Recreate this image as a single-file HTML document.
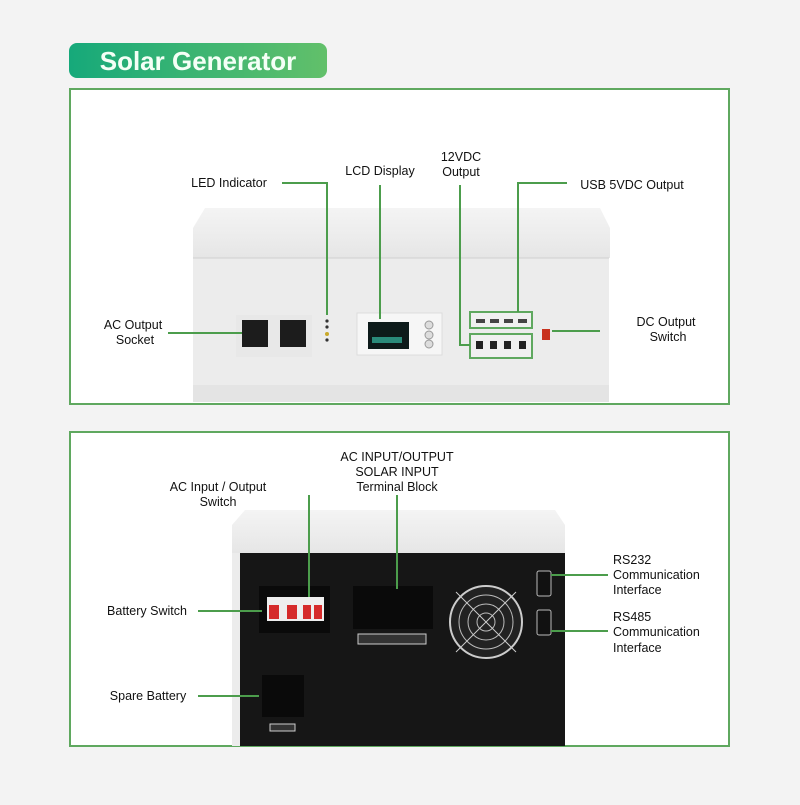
<!DOCTYPE html>
<html><head><style>
body{margin:0;width:800px;height:800px;background:#f3f3f3;font-family:"Liberation Sans",sans-serif;overflow:hidden}
</style></head><body>
<svg width="800" height="800" viewBox="0 0 800 800" xmlns="http://www.w3.org/2000/svg" font-family="Liberation Sans, sans-serif">
<defs>
<linearGradient id="tg" x1="0" x2="1"><stop offset="0" stop-color="#16a97a"/><stop offset="1" stop-color="#62c06a"/></linearGradient>
<linearGradient id="lid" x1="0" y1="0" x2="0" y2="1"><stop offset="0" stop-color="#f4f4f4"/><stop offset="1" stop-color="#e6e6e6"/></linearGradient>
</defs>
<rect x="69" y="43" width="258" height="35" rx="8" fill="url(#tg)"/>
<text x="198" y="70" font-size="26" font-weight="bold" fill="#f4fff6" text-anchor="middle">Solar Generator</text>

<rect x="70" y="89" width="659" height="315" fill="#fff" stroke="#5fa85f" stroke-width="2"/>
<rect x="70" y="432" width="659" height="314" fill="#fff" stroke="#5fa85f" stroke-width="2"/>

<!-- front device -->
<path d="M205 208 L600 208 L610 228 L610 258 L193 258 L193 228 Z" fill="url(#lid)"/>
<rect x="193" y="258" width="416" height="144" fill="#ececec"/>
<line x1="193" y1="258" x2="609" y2="258" stroke="#cfcfcf"/>
<rect x="193" y="385" width="416" height="17" fill="#e4e4e4"/>
<rect x="236" y="315" width="76" height="42" fill="#e8e8e8"/>
<rect x="242" y="320" width="26" height="27" fill="#1c1c1c"/>
<rect x="280" y="320" width="26" height="27" fill="#1c1c1c"/>
<circle cx="327" cy="321" r="1.6" fill="#333"/><circle cx="327" cy="327" r="1.6" fill="#333"/><circle cx="327" cy="334" r="2" fill="#c9a92a"/><circle cx="327" cy="340" r="1.6" fill="#333"/>
<rect x="357" y="313" width="85" height="42" fill="#f6f6f6" stroke="#ddd"/>
<rect x="368" y="322" width="41" height="27" fill="#0d1a1a"/>
<rect x="372" y="337" width="30" height="6" fill="#2a8a7a"/>
<circle cx="429" cy="325" r="4" fill="#ddd" stroke="#999"/><circle cx="429" cy="335" r="4" fill="#ddd" stroke="#999"/><circle cx="429" cy="344" r="4" fill="#ddd" stroke="#999"/>
<rect x="470" y="312" width="62" height="16" fill="#f0f0f0" stroke="#5fa85f" stroke-width="2"/>
<rect x="476" y="319" width="9" height="4" fill="#444"/><rect x="490" y="319" width="9" height="4" fill="#444"/><rect x="504" y="319" width="9" height="4" fill="#444"/><rect x="518" y="319" width="9" height="4" fill="#444"/>
<rect x="470" y="334" width="62" height="24" fill="#f0f0f0" stroke="#5fa85f" stroke-width="2"/>
<rect x="476" y="341" width="7" height="8" fill="#222"/><rect x="490" y="341" width="7" height="8" fill="#222"/><rect x="504" y="341" width="7" height="8" fill="#222"/><rect x="519" y="341" width="7" height="8" fill="#222"/>
<rect x="542" y="329" width="8" height="11" fill="#c8321f"/>

<!-- front connectors -->
<g stroke="#4c9d4c" stroke-width="2" fill="none">
<polyline points="282,183 327,183 327,315"/>
<line x1="380" y1="185" x2="380" y2="319"/>
<polyline points="460,185 460,345 470,345"/>
<polyline points="567,183 518,183 518,312"/>
<line x1="168" y1="333" x2="242" y2="333"/>
<line x1="552" y1="331" x2="600" y2="331"/>
</g>
<g font-size="12.5" fill="#111" text-anchor="middle">
<text x="229" y="187">LED Indicator</text>
<text x="380" y="175">LCD Display</text>
<text x="461" y="161">12VDC</text><text x="461" y="176">Output</text>
<text x="632" y="189">USB 5VDC Output</text>
<text x="133" y="329">AC Output</text><text x="135" y="344">Socket</text>
<text x="666" y="326">DC Output</text><text x="668" y="341">Switch</text>
</g>

<!-- back device -->
<path d="M245 510 L555 510 L565 525 L565 553 L232 553 L232 525 Z" fill="url(#lid)"/>
<rect x="232" y="553" width="10" height="193" fill="#ececec"/>
<rect x="240" y="553" width="325" height="193" fill="#161616"/>
<rect x="259" y="586" width="71" height="47" fill="#0a0a0a"/>
<rect x="267" y="597" width="57" height="24" fill="#eee"/>
<rect x="269" y="605" width="10" height="14" fill="#d52a2a"/><rect x="287" y="605" width="10" height="14" fill="#d52a2a"/><rect x="303" y="605" width="8" height="14" fill="#d52a2a"/><rect x="314" y="605" width="8" height="14" fill="#d52a2a"/>
<rect x="353" y="586" width="80" height="43" fill="#0a0a0a"/>
<rect x="358" y="634" width="68" height="10" fill="#333" stroke="#ccc"/>
<circle cx="486" cy="622" r="36" fill="#222" stroke="#ccc" stroke-width="2"/>
<circle cx="486" cy="622" r="27" fill="none" stroke="#bbb"/><circle cx="486" cy="622" r="18" fill="none" stroke="#bbb"/><circle cx="486" cy="622" r="9" fill="none" stroke="#bbb"/>
<line x1="456" y1="592" x2="516" y2="652" stroke="#ccc"/><line x1="516" y1="592" x2="456" y2="652" stroke="#ccc"/>
<rect x="537" y="571" width="14" height="25" rx="2" fill="#111" stroke="#bbb"/>
<rect x="537" y="610" width="14" height="25" rx="2" fill="#111" stroke="#bbb"/>
<rect x="262" y="675" width="42" height="42" fill="#0a0a0a"/>
<rect x="270" y="724" width="25" height="7" fill="#333" stroke="#ccc"/>

<g stroke="#4c9d4c" stroke-width="2" fill="none">
<line x1="309" y1="495" x2="309" y2="597"/>
<line x1="397" y1="495" x2="397" y2="589"/>
<line x1="198" y1="611" x2="262" y2="611"/>
<line x1="198" y1="696" x2="259" y2="696"/>
<line x1="551" y1="575" x2="608" y2="575"/>
<line x1="551" y1="631" x2="608" y2="631"/>
</g>
<g font-size="12.5" fill="#111">
<text x="397" y="461" text-anchor="middle">AC INPUT/OUTPUT</text>
<text x="397" y="476" text-anchor="middle">SOLAR INPUT</text>
<text x="397" y="491" text-anchor="middle">Terminal Block</text>
<text x="218" y="491" text-anchor="middle">AC Input / Output</text>
<text x="218" y="506" text-anchor="middle">Switch</text>
<text x="147" y="615" text-anchor="middle">Battery Switch</text>
<text x="148" y="700" text-anchor="middle">Spare Battery</text>
<text x="613" y="564">RS232</text><text x="613" y="579">Communication</text><text x="613" y="594">Interface</text>
<text x="613" y="621">RS485</text><text x="613" y="636">Communication</text><text x="613" y="652">Interface</text>
</g>
</svg>
</body></html>
